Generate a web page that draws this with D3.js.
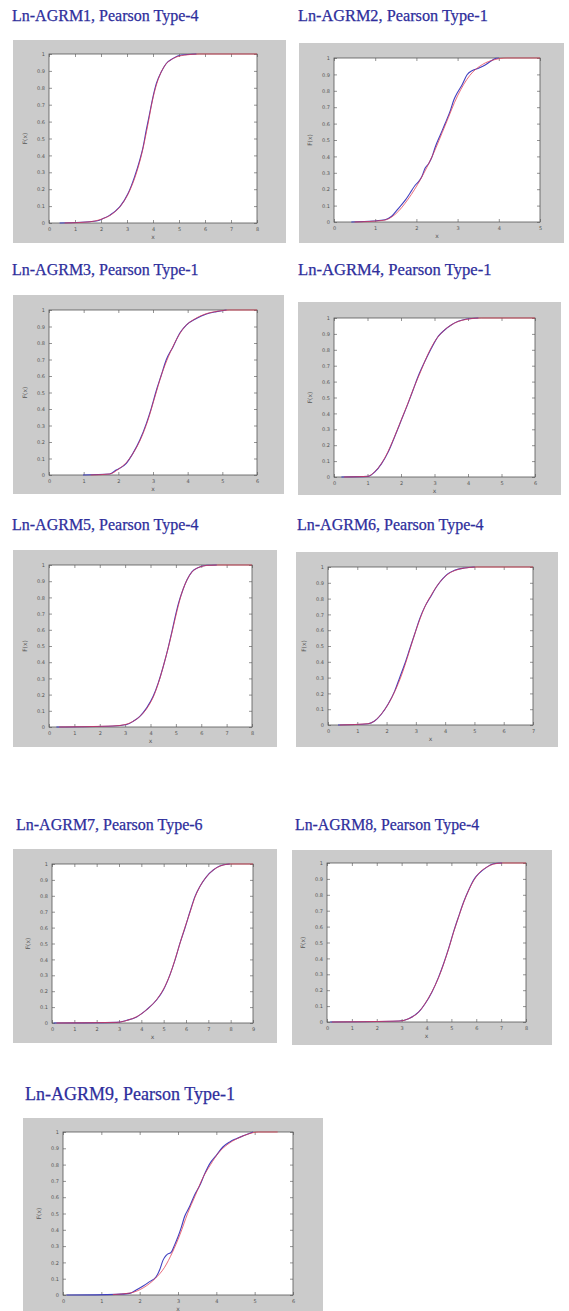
<!DOCTYPE html>
<html>
<head>
<meta charset="UTF-8">
<title>Ln-AGRM Pearson fits</title>
<script src="https://d3js.org/d3.v7.min.js"></script>
<style>
  body { margin: 0; background: #fff; }
  .title { font-family: "Liberation Serif", "DejaVu Serif", serif; }
</style>
</head>
<body>
<svg id="chart"></svg>
<script>

// titles of the nine panels
const titles = [
  "Ln-AGRM1, Pearson Type-4", "Ln-AGRM2, Pearson Type-1",
  "Ln-AGRM3, Pearson Type-1", "Ln-AGRM4, Pearson Type-1",
  "Ln-AGRM5, Pearson Type-4", "Ln-AGRM6, Pearson Type-4",
  "Ln-AGRM7, Pearson Type-6", "Ln-AGRM8, Pearson Type-4",
  "Ln-AGRM9, Pearson Type-1"
];

// x tick labels per panel (the originals are too blurry to read)
const xTicks = [
  [0, 1, 2, 3, 4, 5, 6, 7, 8],
  [0, 1, 2, 3, 4, 5],
  [0, 1, 2, 3, 4, 5, 6],
  [0, 1, 2, 3, 4, 5, 6],
  [0, 1, 2, 3, 4, 5, 6, 7, 8],
  [0, 1, 2, 3, 4, 5, 6, 7],
  [0, 1, 2, 3, 4, 5, 6, 7, 8, 9],
  [0, 1, 2, 3, 4, 5, 6, 7, 8],
  [0, 1, 2, 3, 4, 5, 6]
];

const yTicks = [0, 0.1, 0.2, 0.3, 0.4, 0.5, 0.6, 0.7, 0.8, 0.9, 1];

// empirical CDF (blue), [x, F(x)]
const empirical = [
  [[0.41,0],[1.82,0.012],[2.08,0.026],[2.33,0.045],[2.72,0.095],[3.04,0.174],[3.29,0.273],[3.49,0.372],[3.62,0.451],[3.74,0.549],[3.87,0.648],[4.0,0.747],[4.13,0.826],[4.32,0.895],[4.51,0.944],[4.77,0.974],[5.09,0.994],[5.67,1]],
  [[0.42,0],[0.95,0.006],[1.24,0.014],[1.40,0.035],[1.56,0.082],[1.73,0.133],[1.85,0.178],[1.97,0.224],[2.05,0.245],[2.13,0.276],[2.21,0.327],[2.30,0.357],[2.38,0.398],[2.46,0.459],[2.58,0.531],[2.70,0.602],[2.83,0.684],[2.91,0.745],[2.99,0.786],[3.11,0.837],[3.23,0.898],[3.36,0.924],[3.52,0.939],[3.68,0.959],[3.80,0.980],[3.93,0.998],[4.0,1]],
  [[0.98,0],[1.75,0.006],[1.94,0.030],[2.23,0.071],[2.42,0.131],[2.62,0.212],[2.81,0.313],[2.95,0.404],[3.10,0.515],[3.24,0.606],[3.38,0.697],[3.58,0.778],[3.77,0.859],[3.96,0.909],[4.25,0.949],[4.54,0.976],[4.83,0.990],[5.12,1]],
  [[0.22,0],[1.02,0.004],[1.22,0.032],[1.42,0.084],[1.62,0.158],[1.81,0.253],[2.01,0.358],[2.21,0.463],[2.36,0.547],[2.51,0.632],[2.71,0.726],[2.91,0.811],[3.11,0.884],[3.31,0.926],[3.51,0.958],[3.71,0.979],[3.96,0.994],[4.31,1]],
  [[0.29,0],[2.53,0.006],[3.06,0.015],[3.32,0.035],[3.58,0.066],[3.85,0.118],[4.11,0.191],[4.31,0.274],[4.51,0.378],[4.70,0.492],[4.84,0.585],[4.97,0.678],[5.10,0.761],[5.27,0.844],[5.43,0.906],[5.63,0.958],[5.89,0.985],[6.22,0.998],[6.61,1]],
  [[0.34,0],[1.37,0.008],[1.59,0.025],[1.82,0.068],[2.05,0.131],[2.28,0.216],[2.45,0.301],[2.62,0.386],[2.79,0.481],[2.96,0.576],[3.13,0.672],[3.30,0.746],[3.53,0.820],[3.70,0.873],[3.92,0.926],[4.10,0.958],[4.32,0.979],[4.66,0.994],[5.01,1]],
  [[0.07,0],[2.90,0.004],[3.35,0.017],[3.79,0.038],[4.24,0.084],[4.69,0.146],[4.99,0.209],[5.28,0.303],[5.51,0.397],[5.73,0.502],[5.95,0.596],[6.18,0.701],[6.40,0.795],[6.62,0.858],[6.92,0.921],[7.22,0.962],[7.51,0.987],[7.96,1]],
  [[0.13,0],[2.88,0.006],[3.28,0.021],[3.69,0.063],[3.95,0.116],[4.22,0.189],[4.49,0.284],[4.69,0.368],[4.89,0.463],[5.09,0.568],[5.29,0.663],[5.50,0.758],[5.70,0.832],[5.90,0.895],[6.10,0.933],[6.37,0.968],[6.70,0.995],[7.04,1]],
  [[0.09,0],[1.39,0.004],[1.74,0.010],[1.91,0.031],[2.09,0.055],[2.26,0.082],[2.43,0.112],[2.52,0.153],[2.61,0.214],[2.70,0.245],[2.83,0.265],[2.91,0.306],[3.0,0.357],[3.09,0.418],[3.17,0.480],[3.30,0.541],[3.43,0.612],[3.57,0.673],[3.70,0.745],[3.83,0.806],[4.0,0.857],[4.17,0.908],[4.35,0.939],[4.52,0.959],[4.74,0.980],[4.96,1]]
];

// fitted Pearson CDF (red), [x, F(x)]
const fitted = [
  [[0.6,0],[1.5,0.006],[2.0,0.022],[2.4,0.05],[2.8,0.11],[3.1,0.19],[3.35,0.29],[3.6,0.43],[3.8,0.58],[4.0,0.74],[4.2,0.85],[4.45,0.93],[4.8,0.975],[5.2,0.993],[5.8,1],[8,1]],
  [[0.5,0],[1.2,0.01],[1.5,0.05],[1.8,0.14],[2.1,0.26],[2.4,0.41],[2.7,0.59],[3.0,0.77],[3.3,0.895],[3.6,0.96],[3.9,0.99],[4.2,1],[5,1]],
  [[1.2,0],[1.75,0.006],[2.0,0.035],[2.25,0.08],[2.45,0.14],[2.65,0.22],[2.85,0.33],[3.05,0.47],[3.25,0.61],[3.45,0.72],[3.65,0.81],[3.9,0.895],[4.2,0.945],[4.5,0.975],[4.85,0.992],[5.2,1],[6,1]],
  [[0.3,0],[1.0,0.004],[1.2,0.03],[1.4,0.08],[1.6,0.155],[1.8,0.25],[2.0,0.355],[2.2,0.46],[2.4,0.57],[2.6,0.67],[2.8,0.77],[3.0,0.85],[3.3,0.925],[3.6,0.968],[4.0,0.993],[4.4,1],[6,1]],
  [[0.4,0],[2.5,0.006],[3.0,0.015],[3.3,0.034],[3.6,0.068],[3.9,0.125],[4.15,0.2],[4.35,0.29],[4.55,0.4],[4.75,0.52],[4.9,0.62],[5.05,0.72],[5.2,0.81],[5.4,0.895],[5.6,0.95],[5.9,0.985],[6.3,0.998],[6.7,1],[8,1]],
  [[0.4,0],[1.35,0.008],[1.6,0.027],[1.8,0.065],[2.05,0.13],[2.3,0.22],[2.5,0.31],[2.7,0.42],[2.9,0.54],[3.1,0.65],[3.3,0.745],[3.55,0.83],[3.8,0.9],[4.1,0.955],[4.4,0.982],[4.8,0.996],[5.1,1],[7,1]],
  [[0.2,0],[2.9,0.004],[3.4,0.018],[3.8,0.04],[4.25,0.085],[4.7,0.15],[5.0,0.215],[5.3,0.31],[5.5,0.395],[5.75,0.51],[5.95,0.6],[6.2,0.705],[6.4,0.79],[6.65,0.865],[6.95,0.925],[7.25,0.965],[7.55,0.988],[8.0,1],[9,1]],
  [[0.2,0],[2.9,0.006],[3.3,0.022],[3.7,0.065],[3.95,0.118],[4.2,0.185],[4.5,0.285],[4.7,0.37],[4.9,0.465],[5.1,0.57],[5.3,0.665],[5.5,0.755],[5.7,0.83],[5.9,0.89],[6.1,0.935],[6.4,0.972],[6.7,0.993],[7.05,1],[8,1]],
  [[1.3,0.003],[1.75,0.012],[2.1,0.045],[2.4,0.1],[2.65,0.17],[2.85,0.26],[3.05,0.37],[3.25,0.5],[3.45,0.61],[3.65,0.72],[3.85,0.8],[4.05,0.87],[4.3,0.925],[4.55,0.96],[4.8,0.985],[5.1,1],[5.6,1]]
];

// page layout: title position, grey figure box, plot box
const layout = [
  {tx:12,  ty:21,   fs:16,   gx:13,  gy:40,   gw:273, gh:203, px:49,  py:54,   pw:208, ph:169},
  {tx:298, ty:21,   fs:16.3, gx:299, gy:43,   gw:265, gh:200, px:334, py:58,   pw:206, ph:164},
  {tx:12,  ty:275,  fs:16,   gx:13,  gy:295,  gw:271, gh:199, px:49,  py:310,  pw:208, ph:165},
  {tx:298, ty:275,  fs:16.6, gx:298, gy:302,  gw:263, gh:193, px:334, py:318,  pw:201, ph:159},
  {tx:12,  ty:530,  fs:16,   gx:13,  gy:550,  gw:264, gh:197, px:49,  py:565,  pw:203, ph:162},
  {tx:297, ty:530,  fs:16,   gx:296, gy:552,  gw:262, gh:195, px:328, py:567,  pw:205, ph:158},
  {tx:16,  ty:830,  fs:16,   gx:13,  gy:849,  gw:264, gh:194, px:52,  py:864,  pw:201, ph:159},
  {tx:295, ty:830,  fs:15.8, gx:292, gy:850,  gw:260, gh:195, px:327, py:863,  pw:199, ph:159},
  {tx:25,  ty:1100, fs:18,   gx:23,  gy:1118, gw:300, gh:193, px:63,  py:1132, pw:230, ph:163}
];

const W = 569, H = 1311;
const svg = d3.select("#chart").attr("width", W).attr("height", H);

titles.forEach((title, i) => {
  const L = layout[i];

  svg.append("text")
    .attr("class", "title")
    .attr("x", L.tx)
    .attr("y", L.ty)
    .attr("font-size", L.fs + "px")
    .attr("fill", "#2e2e9c")
    .attr("stroke", "#2e2e9c")
    .attr("stroke-width", 0.25)
    .text(title);

  svg.append("rect")
    .attr("x", L.gx).attr("y", L.gy)
    .attr("width", L.gw).attr("height", L.gh)
    .attr("fill", "#cbcbcb");

  const g = svg.append("g").attr("transform", `translate(${L.px}, ${L.py})`);

  g.append("rect")
    .attr("width", L.pw).attr("height", L.ph)
    .attr("fill", "#fff");

  const xt = xTicks[i];
  const x = d3.scaleLinear().domain([xt[0], xt[xt.length - 1]]).range([0, L.pw]);
  const y = d3.scaleLinear().domain([0, 1]).range([L.ph, 0]);

  // matlab-like ticks pointing inward on all four sides
  const styleAxis = sel => {
    sel.select(".domain").remove();
    sel.selectAll("line").attr("stroke", "#666").attr("stroke-width", 0.7);
    sel.selectAll("text").attr("fill", "#555").attr("font-size", "5px")
      .attr("font-family", "DejaVu Sans, sans-serif");
  };

  g.append("g")
    .attr("transform", `translate(0, ${L.ph})`)
    .call(d3.axisBottom(x).tickValues(xt).tickSize(-3).tickPadding(4).tickFormat(d3.format("d")))
    .call(styleAxis);
  g.append("g")
    .call(d3.axisTop(x).tickValues(xt).tickSize(-3).tickFormat(""))
    .call(styleAxis);
  g.append("g")
    .call(d3.axisLeft(y).tickValues(yTicks).tickSize(-3).tickPadding(4).tickFormat(d3.format("~g")))
    .call(styleAxis);
  g.append("g")
    .attr("transform", `translate(${L.pw}, 0)`)
    .call(d3.axisRight(y).tickValues(yTicks).tickSize(-3).tickFormat(""))
    .call(styleAxis);

  g.append("rect")
    .attr("width", L.pw).attr("height", L.ph)
    .attr("fill", "none")
    .attr("stroke", "#555")
    .attr("stroke-width", 0.8);

  const line = d3.line()
    .x(d => x(d[0]))
    .y(d => y(d[1]))
    .curve(d3.curveMonotoneX);

  g.append("path")
    .datum(empirical[i])
    .attr("d", line)
    .attr("fill", "none")
    .attr("stroke", "#4040c0")
    .attr("stroke-width", 1.1);

  g.append("path")
    .datum(fitted[i])
    .attr("d", line)
    .attr("fill", "none")
    .attr("stroke", "#e03a50")
    .attr("stroke-width", 1)
    .attr("stroke-opacity", 0.75);

  // axis labels
  g.append("text")
    .attr("x", L.pw / 2)
    .attr("y", L.ph + 16)
    .attr("text-anchor", "middle")
    .attr("font-size", "6px")
    .attr("font-family", "DejaVu Sans, sans-serif")
    .attr("fill", "#555")
    .text("x");

  g.append("text")
    .attr("transform", `translate(-22, ${L.ph / 2}) rotate(-90)`)
    .attr("text-anchor", "middle")
    .attr("font-size", "6px")
    .attr("font-family", "DejaVu Sans, sans-serif")
    .attr("fill", "#555")
    .text("F(x)");
});

</script>
</body>
</html>
